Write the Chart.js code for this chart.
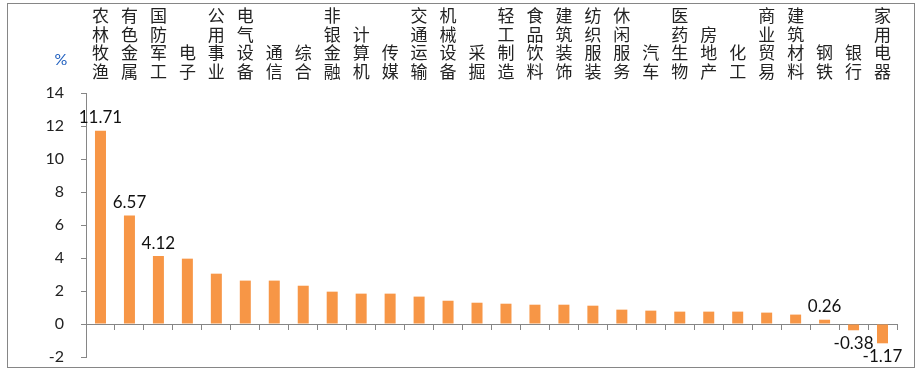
<!DOCTYPE html>
<html>
<head>
<meta charset="utf-8">
<script src="https://cdn.jsdelivr.net/npm/chart.js@4/dist/chart.umd.min.js"></script>
<style>
  html, body { margin: 0; padding: 0; background: #fff; }
</style>
</head>
<body>
<canvas id="grafico" width="921" height="374"></canvas>
<script>
// datos del grafico
const categorias = ['农林牧渔', '有色金属', '国防军工', '电子', '公用事业', '电气设备', '通信', '综合',
    '非银金融', '计算机', '传媒', '交通运输', '机械设备', '采掘', '轻工制造', '食品饮料', '建筑装饰',
    '纺织服装', '休闲服务', '汽车', '医药生物', '房地产', '化工', '商业贸易', '建筑材料', '钢铁', '银行', '家用电器'];
const valores = [11.71, 6.57, 4.12, 3.96, 3.05, 2.63, 2.63, 2.32, 1.96, 1.84, 1.84, 1.66, 1.41,
    1.29, 1.23, 1.17, 1.17, 1.11, 0.87, 0.81, 0.75, 0.75, 0.75, 0.69, 0.57, 0.26, -0.38, -1.17];
const conEtiqueta = [0, 1, 2, 25, 26, 27];
const yMin = -2;
const yMax = 14;
const yPaso = 2;
const unidad = '%';

const gris = '#868686';

// marco exterior, unidad y etiquetas de valores
const extras = {
    id: 'extras',
    beforeDraw(chart) {
        const ctx = chart.ctx;
        ctx.save();
        ctx.fillStyle = '#fff';
        ctx.fillRect(0, 0, chart.width, chart.height);
        ctx.strokeStyle = gris;
        ctx.lineWidth = 1;
        ctx.strokeRect(7.5, 3.5, chart.width - 14, chart.height - 10);
        ctx.restore();
    },
    afterDatasetsDraw(chart) {
        const ctx = chart.ctx;
        const area = chart.chartArea;
        ctx.save();
        ctx.font = '16px Lato';
        ctx.fillStyle = '#1f5fbf';
        ctx.textAlign = 'center';
        ctx.textBaseline = 'middle';
        ctx.fillText(unidad, area.left - 25, area.top - 33);

        const meta = chart.getDatasetMeta(0);
        ctx.font = '17px Lato';
        ctx.fillStyle = '#111';
        conEtiqueta.forEach(i => {
            const barra = meta.data[i];
            const v = valores[i];
            const y = v >= 0 ? barra.y - 13 : barra.y + 13;
            ctx.fillText(v.toFixed(2), barra.x, y);
        });
        ctx.restore();
    }
};

new Chart(document.getElementById('grafico'), {
    type: 'bar',
    data: {
        labels: categorias.map(c => c.split('')),
        datasets: [{
            data: valores,
            backgroundColor: '#F79646',
            barPercentage: 0.38,
            categoryPercentage: 1
        }]
    },
    options: {
        responsive: false,
        animation: false,
        layout: { padding: { left: 0, right: 24, top: 0, bottom: 17 } },
        plugins: {
            legend: { display: false },
            tooltip: { enabled: false }
        },
        scales: {
            x: {
                position: 'top',
                offset: true,
                grid: { display: false, drawTicks: false },
                border: { display: false },
                ticks: {
                    maxRotation: 0,
                    autoSkip: false,
                    padding: 12,
                    color: '#222',
                    font: { family: '"Noto Sans CJK SC"', size: 17, lineHeight: 1.1 }
                },
                afterFit(scale) { scale.height = 93; }
            },
            x2: {
                type: 'category',
                position: { y: 0 },
                offset: true,
                grid: { offset: true, drawOnChartArea: false, tickLength: 5, color: gris },
                border: { color: gris },
                ticks: { display: false },
                afterFit(scale) { scale.height = 0; }
            },
            y: {
                min: yMin,
                max: yMax,
                grid: { drawOnChartArea: false, tickLength: 5, color: gris },
                border: { color: gris },
                ticks: {
                    stepSize: yPaso,
                    padding: 17,
                    color: '#222',
                    font: { family: 'Lato', size: 16 }
                },
                afterFit(scale) {
                    scale.width = 86;
                    scale.paddingTop = 0;
                    scale.paddingBottom = 0;
                }
            }
        }
    },
    plugins: [extras]
});
</script>
</body>
</html>
